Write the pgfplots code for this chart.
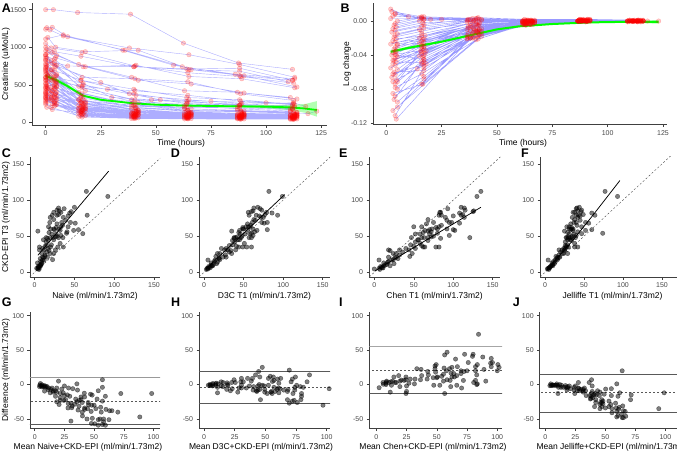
\documentclass[border=0pt]{standalone}
\usepackage{pgfplots}
\pgfplotsset{compat=1.18}
\usepackage{pgfplotstable}
\usepackage{fontspec}
\setmainfont{Liberation Sans}

\definecolor{lime}{RGB}{0,255,0}
\newcommand{\ticksz}{\fontsize{7}{8}\selectfont}
\newcommand{\labsz}{\fontsize{8.5}{10}\selectfont}
\newcommand{\letsz}{\fontsize{12.5}{13}\selectfont\bfseries}

\pgfplotsset{
  gg/.style={
    scale only axis, anchor=south west,
    axis lines*=left,
    axis line style={-, black!75, line width=0.5pt},
    every outer x axis line/.append style={-},
    every outer y axis line/.append style={-},
    every tick/.style={black!75, line width=0.5pt},
    tick align=outside, major tick length=2.5pt,
    ticklabel style={font=\ticksz, text=black!72},
    /pgf/number format/assume math mode=true,
    /pgf/number format/1000 sep={},
    scaled ticks=false,
  },
  traj/.style={no marks, blue, opacity=0.32, line width=0.4pt},
  dots/.style={only marks, mark=*, mark size=2.3pt,
    mark options={fill=red, fill opacity=0.2, draw=red, draw opacity=0.28, line width=0.3pt}},
  pts/.style={only marks, mark=*, mark size=2.2pt,
    mark options={draw=none, fill=black, opacity=0.5}},
  fitl/.style={no marks, black, line width=0.75pt},
  idl/.style={no marks, black!70, line width=0.4pt, dash pattern=on 2pt off 2pt},
  hl/.style={no marks, black!65, line width=0.6pt},
}

\pgfplotstableread{
x y
0 1500
3.5 1500
14.5 1462
38.5 1440
62.5 1055
87.5 790
112 705
nan nan
0.5 1260
3 1265
10 1140
38 990
65 900
88 770
113 600
nan nan
0 1240
2 1230
8 1150
36 960
62 740
86 640
113 580
nan nan
1 1130
4.5 1000
18 940
42 960
66 700
90 620
114 470
nan nan
0 1050
2.5 990
16.5 930
40.5 750
64.5 660
88.5 610
112.5 520
nan nan
0 1000
4 940
16 880
40 740
64 710
88 720
112 560
nan nan
0.5 980
3 930
17 740
41 760
65 610
89 580
113 460
nan nan
0 950
5 890
15 770
39 600
63 420
87 400
111 330
nan nan
1 930
4.5 860
18 740
42 560
66 510
90 390
114 310
nan nan
0 900
2.5 820
16.5 600
40.5 580
64.5 540
88.5 380
112.5 290
nan nan
0 880
4 840
16 560
40 440
64 330
88 300
112 240
nan nan
0.5 860
3 780
17 500
41 360
65 300
89 250
113 200
nan nan
0 820
5 760
15 480
39 300
63 220
87 180
111 150
nan nan
1 800
4.5 740
18 420
42 260
66 180
90 150
114 130
nan nan
0 780
2.5 700
16.5 380
40.5 230
64.5 160
88.5 140
112.5 120
119 115
123 148
nan nan
0 760
4 690
16 560
40 380
64 280
88 230
112 180
nan nan
0.5 740
3 660
17 340
41 200
65 140
89 120
113 110
nan nan
0 720
5 640
15 300
39 180
63 130
87 110
111 100
nan nan
1 700
4.5 620
18 280
42 160
66 120
90 100
114 90
nan nan
0 690
2.5 600
16.5 460
40.5 300
64.5 270
88.5 240
112.5 260
118 210
nan nan
0 670
4 580
16 260
40 150
64 110
88 100
112 90
nan nan
0.5 650
3 560
17 240
41 140
65 100
89 90
113 85
nan nan
0 640
5 540
15 400
39 240
63 180
87 160
111 140
nan nan
1 620
4.5 520
18 220
42 130
66 95
90 85
114 80
nan nan
0 600
2.5 560
16.5 480
28 440
40.5 420
64.5 360
88.5 280
112.5 250
nan nan
0 590
4 500
16 200
40 120
64 90
88 80
112 75
nan nan
0.5 570
3 480
17 190
41 110
65 85
89 75
113 70
nan nan
0 560
5 470
15 300
39 210
63 200
87 210
111 180
nan nan
1 540
4.5 450
18 180
42 100
66 80
90 70
114 65
nan nan
0 520
2.5 430
16.5 170
40.5 95
64.5 75
88.5 70
112.5 60
nan nan
0 510
4 470
16 350
40 270
64 240
88 220
112 190
nan nan
0.5 500
3 420
17 160
41 90
65 70
89 65
113 60
nan nan
0 480
5 400
15 150
39 85
63 70
87 60
111 55
nan nan
1 470
4.5 390
18 260
42 160
66 130
90 120
114 110
nan nan
0 460
2.5 380
16.5 140
40.5 80
64.5 65
88.5 60
112.5 55
nan nan
0 450
4 360
16 130
40 75
64 65
88 55
112 50
nan nan
0.5 440
3 370
17 220
41 150
65 120
89 110
113 100
nan nan
0 420
5 340
15 120
39 70
63 60
87 55
111 50
nan nan
1 410
4.5 330
18 200
42 130
66 110
90 100
114 95
nan nan
0 400
2.5 320
16.5 110
40.5 65
64.5 55
88.5 50
112.5 45
nan nan
0 380
4 340
16 280
40 230
64 200
88 190
112 170
nan nan
0.5 370
3 300
17 100
41 60
65 55
89 50
113 45
nan nan
0 360
5 300
15 180
39 120
63 100
87 95
111 90
nan nan
1 350
4.5 290
18 90
42 60
66 50
90 45
114 45
nan nan
0 340
2.5 310
16.5 260
40.5 200
64.5 160
88.5 150
112.5 140
nan nan
0 320
4 260
16 90
40 55
64 50
88 45
112 40
nan nan
0.5 310
3 250
17 160
41 100
65 90
89 85
113 80
nan nan
0 300
5 240
15 80
39 50
63 45
87 45
111 40
nan nan
1 280
4.5 230
18 150
42 110
66 100
90 95
114 90
nan nan
0 260
2.5 200
16.5 70
40.5 50
64.5 45
88.5 40
112.5 40
nan nan
0 240
4 220
16 140
40 90
64 80
88 80
112 75
nan nan
0.5 200
3 170
17 120
41 80
65 70
89 65
113 60
nan nan
0 900
4 760
25 530
38 380
52 300
64 250
88 230
112 220
nan nan
0 1110
8 1165
35 960
58 760
88 620
112 560
nan nan
0 850
4 800
10 750
40 740
65 700
88 680
110 540
nan nan
0 830
5 620
16 260
40 120
64 90
88 85
112 80
nan nan
0 730
3.5 600
17 520
30 330
48 300
75 280
100 260
113 230
nan nan
1 640
4 560
16 330
41 190
64 150
89 140
114 130
nan nan
0 330
4 280
16 150
40 80
64 70
88 65
112 60
nan nan
0 560
4 450
16 210
40 110
64 95
88 90
112 85
nan nan
0.5 480
3 420
17 200
41 130
65 110
89 100
113 95
nan nan
1 620
4.5 540
18 250
42 140
66 115
90 110
114 105
nan nan
0 700
5 520
15 230
39 120
63 100
87 95
111 90
nan nan
0 390
2.5 330
16.5 170
40.5 100
64.5 85
88.5 80
112.5 75
nan nan
0 280
4 250
16 120
40 70
64 60
88 60
112 55
nan nan
0.5 760
3 700
17 300
41 150
65 120
89 110
113 100
nan nan
0 600
5 480
15 190
39 105
63 85
87 80
111 70
nan nan
1 450
4.5 380
18 180
42 95
66 80
90 75
114 70
}\Atab

\pgfplotstableread{
x y
4.5 -0.115
38 -0.02
62 -0.004
87 0.001
110 0
nan nan
4 -0.111
17 -0.055
41 -0.018
65.5 -0.003
90.5 0
113.5 0.001
nan nan
5 -0.101
36.5 -0.021
63 -0.005
88 0
111 0
nan nan
3.5 -0.092
16 -0.048
42 -0.016
67 -0.002
92 0.001
115 0
nan nan
4 -0.088
17 -0.065
39.5 -0.019
61.5 -0.004
86.5 0
109 -0.001
nan nan
3 -0.085
16.5 -0.074
40.5 -0.022
64 -0.003
89 0.001
112 0
nan nan
5 -0.08
16 -0.05
37 -0.015
66 -0.002
91 0.002
114 0.001
nan nan
4 -0.074
17 -0.045
43 -0.012
63.5 -0.001
88.5 0.001
111.5 0
nan nan
3 -0.071
15 -0.041
39 -0.014
65 -0.004
90 -0.001
113 0
nan nan
4.5 -0.069
17 -0.052
41.5 -0.017
62.5 -0.003
87.5 0.002
116 0
nan nan
2.5 -0.066
16 -0.039
38 -0.011
62 -0.002
87 0
110 0.001
nan nan
4 -0.063
16.5 -0.043
41 -0.013
65.5 -0.001
90.5 0.001
113.5 0
nan nan
3.5 -0.06
17 -0.058
36.5 -0.02
63 -0.004
88 0
111 0
nan nan
5 -0.057
16 -0.036
42 -0.01
67 -0.002
92 0.001
115 -0.001
nan nan
2 -0.055
15.5 -0.035
39.5 -0.009
61.5 -0.001
86.5 0
109 0
nan nan
4 -0.052
17 -0.04
40.5 -0.012
64 -0.003
89 0.001
112 0.001
nan nan
3 -0.05
16 -0.033
37 -0.008
66 -0.001
91 0.002
114 0
nan nan
4.5 -0.048
17 -0.049
43 -0.015
63.5 -0.002
88.5 0
111.5 0
nan nan
3.5 -0.046
16 -0.03
39 -0.007
65 0
90 0.001
113 0
nan nan
4 -0.044
17.5 -0.038
41.5 -0.011
62.5 -0.002
87.5 0
116 0
nan nan
5 -0.042
16 -0.028
38 -0.006
62 -0.001
87 0.001
110 0.001
nan nan
2.5 -0.04
15 -0.026
41 -0.005
65.5 0
90.5 0
113.5 0
nan nan
4 -0.039
17 -0.034
36.5 -0.01
63 -0.002
88 0.001
111 0
nan nan
3 -0.037
16 -0.024
42 -0.004
67 0
92 0.001
115 0
nan nan
4.5 -0.035
17 -0.03
39.5 -0.008
61.5 -0.001
86.5 0
109 0
nan nan
3.5 -0.033
16.5 -0.022
40.5 -0.003
64 0.001
89 0.002
112 0
nan nan
4 -0.031
15 -0.02
37 -0.006
66 0
91 0
114 0.001
nan nan
5 -0.029
17 -0.025
43 -0.009
63.5 -0.001
88.5 0.001
111.5 0
nan nan
2 -0.027
16 -0.018
39 -0.002
65 0
90 0
113 0
nan nan
4 -0.025
17 -0.021
41.5 -0.005
62.5 0
87.5 0.001
116 0
nan nan
3 -0.023
16 -0.015
38 -0.003
62 0.001
87 0
110 0
nan nan
4.5 -0.021
17.5 -0.017
41 -0.004
65.5 0
90.5 0
113.5 -0.001
nan nan
3.5 -0.019
16 -0.012
36.5 -0.001
63 0
88 0.001
111 0
nan nan
4 -0.017
15 -0.01
42 -0.002
67 0.001
92 0
115 0
nan nan
5 -0.015
17 -0.008
39.5 0
61.5 0
86.5 0
109 0
nan nan
2.5 -0.013
16 -0.006
40.5 0.001
64 0
89 0.001
112 0
nan nan
4 -0.011
17 -0.004
37 0.002
66 0
91 0
114 0
nan nan
3 -0.009
16.5 -0.002
43 0.001
63.5 0.001
88.5 0
111.5 0
nan nan
4.5 -0.007
15 0
39 0.003
65 0.001
90 0.001
113 0
nan nan
3.5 -0.005
17 0.002
41.5 0.004
62.5 0.002
87.5 0.002
116 0.001
nan nan
4 -0.003
16 0.004
38 0.002
62 0
87 0
110 0
nan nan
5 0
17 0.005
41 0.003
65.5 0.001
90.5 0.001
113.5 0
nan nan
2 0.003
16 0.003
36.5 0.001
63 0
88 0
111 0
nan nan
3 0.006
15 0.004
42 0.002
67 0
92 0.002
115 0.001
nan nan
4 0.008
17 0.002
39.5 0.001
61.5 0
86.5 0
109 0
nan nan
2.5 0.011
16 0.005
40.5 0.003
64 0.001
89 0.001
112 0
nan nan
2 0.014
10 0.005
25 0.002
37 0.001
66 0
91 0
114 0
nan nan
4 0.009
20 0.002
43 0.002
63.5 0
88.5 0
111.5 0
nan nan
3 -0.062
18 -0.05
39 -0.016
65 -0.003
90 0
113 0
nan nan
4.5 -0.04
17 -0.045
41.5 -0.014
62.5 -0.002
87.5 0
116 0
nan nan
16 -0.074
38 -0.02
62 -0.003
87 0
110 0
nan nan
5 -0.027
41 -0.012
65.5 -0.001
90.5 0
113.5 0
nan nan
3 -0.046
36.5 -0.017
63 -0.003
88 0.001
111 0
nan nan
5 -0.071
17 -0.03
42 -0.01
67 -0.002
92 0
115 0
nan nan
4 -0.036
39.5 -0.013
61.5 -0.002
86.5 0
109 0
nan nan
18 -0.035
40.5 -0.011
64 -0.001
89 0
118 0
nan nan
14 -0.056
37 -0.019
66 -0.004
91 0
123 0
nan nan
4 -0.078
16 -0.062
43 -0.018
63.5 -0.003
88.5 0
111.5 0
nan nan
5 -0.095
17 -0.068
39 -0.02
65 -0.004
90 0
113 0
nan nan
3 -0.105
41.5 -0.021
62.5 -0.004
87.5 0
116 0
}\Btab

\pgfplotstableread{
y n d c j mn dn md dd mc dc mj dj
105 92 99 130 93 98.5 -13 102 -6 117.5 25 99 -12
112 65 82 135 77 88.5 -47 97 -30 123.5 23 94.5 -35
79 66 93 110 64 72.5 -13 86 14 94.5 31 71.5 -15
59 55 80 100 60 57 -4 69.5 21 79.5 41 59.5 1
68 51 76 108 56 59.5 -17 72 8 88 40 62 -12
90 50 68 110 44 70 -40 79 -22 100 20 67 -46
84 46 60 125 46 65 -38 72 -24 104.5 41 65 -38
69 45 73 95 52 57 -24 71 4 82 26 60.5 -17
63 42 53 50 47 52.5 -21 58 -10 56.5 -13 55 -16
72 39 65 92 45 55.5 -33 68.5 -7 82 20 58.5 -27
76 36 72 114 42 56 -40 74 -4 95 38 59 -34
83 33 79 83 38 58 -50 81 -4 83 0 60.5 -45
85 31 62 126 42 58 -54 73.5 -23 105.5 41 63.5 -43
79 28 57 85 40 53.5 -51 68 -22 82 6 59.5 -39
89 30 63 114 41 59.5 -59 76 -26 101.5 25 65 -48
83 24 56 84 36 53.5 -59 69.5 -27 83.5 1 59.5 -47
79 22 66 82 43 50.5 -57 72.5 -13 80.5 3 61 -36
76 19.5 75 90 35 47.75 -56.5 75.5 -1 83 14 55.5 -41
69 19 61 98 37 44 -50 65 -8 83.5 29 53 -32
67 28 55 66 33 47.5 -39 61 -12 66.5 -1 50 -34
63 33 56 60 31 48 -30 59.5 -7 61.5 -3 47 -32
60 30.5 49 92 36 45.25 -29.5 54.5 -11 76 32 48 -24
60 24 62 73 31 42 -36 61 2 66.5 13 45.5 -29
60 20 50 80 34 40 -40 55 -10 70 20 47 -26
55 18 44 62 29 36.5 -37 49.5 -11 58.5 7 42 -26
49 26 42 72 30 37.5 -23 45.5 -7 60.5 23 39.5 -19
48 30 57 47 39 39 -18 52.5 9 47.5 -1 43.5 -9
48 35.5 60 68 28 41.75 -12.5 54 12 58 20 38 -20
48 23 40 63 33 35.5 -25 44 -8 55.5 15 40.5 -15
48 19.5 47 60 35 33.75 -28.5 47.5 -1 54 12 41.5 -13
48 14.4 38 121 27 31.2 -33.6 43 -10 84.5 73 37.5 -21
45 11 45 55 29 28 -34 45 0 50 10 37 -16
37 15 32 60 26 26 -22 34.5 -5 48.5 23 31.5 -11
44 17 36 68 34 30.5 -27 40 -8 56 24 39 -10
35 20 44 82 42 27.5 -15 39.5 9 58.5 47 38.5 7
31 26 40 44 25 28.5 -5 35.5 9 37.5 13 28 -6
35 29 49 78 28 32 -6 42 14 56.5 43 31.5 -7
40 32 51 58 38 36 -8 45.5 11 49 18 39 -2
33 10 28 52 24 21.5 -23 30.5 -5 42.5 19 28.5 -9
26 9 17 48 22 17.5 -17 21.5 -9 37 22 24 -4
19 7 19 30 15 13 -12 19 0 24.5 11 17 -4
21 10 24 28 19 15.5 -11 22.5 3 24.5 7 20 -2
22 13 15 45 14 17.5 -9 18.5 -7 33.5 23 18 -8
57 4 35 68 25 30.5 -53 46 -22 62.5 11 41 -32
35 6 54 62 30 20.5 -29 44.5 19 48.5 27 32.5 -5
31 6 26 18 22 18.5 -25 28.5 -5 24.5 -13 26.5 -9
13 3.5 9 12 9 8.25 -9.5 11 -4 12.5 -1 11 -4
8 4.5 6 8 7 6.25 -3.5 7 -2 8 0 7.5 -1
5.5 2.5 4 6 4 4 -3 4.75 -1.5 5.75 0.5 4.75 -1.5
6.4 6 8 10 6 6.2 -0.4 7.2 1.6 8.2 3.6 6.2 -0.4
9 7.5 11 20 10 8.25 -1.5 10 2 14.5 11 9.5 1
12 9 16 25 12 10.5 -3 14 4 18.5 13 12 0
17 10 5 6 4 13.5 -7 11 -12 11.5 -11 10.5 -13
15 7.5 13 18 11 11.25 -7.5 14 -2 16.5 3 13 -4
10 7 9 14 9 8.5 -3 9.5 -1 12 4 9.5 -1
4.6 4 5 0 3 4.3 -0.6 4.8 0.4 2.3 -4.6 3.8 -1.6
4 5.5 3 7 5 4.75 1.5 3.5 -1 5.5 3 4.5 1
28 15 32 36 20 21.5 -13 30 4 32 8 24 -8
33 17 22 40 26 25 -16 27.5 -11 36.5 7 29.5 -7
31 12 30 32 18 21.5 -19 30.5 -1 31.5 1 24.5 -13
42 14.4 39 52 26 28.2 -27.6 40.5 -3 47 10 34 -16
53 21.6 46 58 31 37.3 -31.4 49.5 -7 55.5 5 42 -22
53 27 52 52 37 40 -26 52.5 -1 52.5 -1 45 -16
58 32 45 64 36 45 -26 51.5 -13 61 6 47 -22
56 40.7 64 72 42 48.35 -15.3 60 8 64 16 49 -14
69 34 80 75 40 51.5 -35 74.5 11 72 6 54.5 -29
73 24 63 68 38 48.5 -49 68 -10 70.5 -5 55.5 -35
88 37 71 93 40 62.5 -51 79.5 -17 90.5 5 64 -48
63 17.4 58 82 28 40.2 -45.6 60.5 -5 72.5 19 45.5 -35
35 36 60 64 38 35.5 1 47.5 25 49.5 29 36.5 3
58 49 67 102 52 53.5 -9 62.5 9 80 44 55 -6
59 25 55 70 33 42 -34 57 -4 64.5 11 46 -26
21 16 28 18 16 18.5 -5 24.5 7 19.5 -3 18.5 -5
26 19.5 20 24 24 22.75 -6.5 23 -6 25 -2 25 -2
17 12 14 22 13 14.5 -5 15.5 -3 19.5 5 15 -4
26 24 35 28 29 25 -2 30.5 9 27 2 27.5 3
7 5 7 9 6 6 -2 7 0 8 2 6.5 -1
9 6 10 12 8 7.5 -3 9.5 1 10.5 3 8.5 -1
11 8 12 16 10 9.5 -3 11.5 1 13.5 5 10.5 -1
6 4 5 11 5 5 -2 5.5 -1 8.5 5 5.5 -1
14 9 17 17 13 11.5 -5 15.5 3 15.5 3 13.5 -1
20 11 19 26 17 15.5 -9 19.5 -1 23 6 18.5 -3
24 13 27 32 18 18.5 -11 25.5 3 28 8 21 -6
30 18 34 20 25 24 -12 32 4 25 -10 27.5 -5
38 21 36 46 29 29.5 -17 37 -2 42 8 33.5 -9
45 24 43 56 32 34.5 -21 44 -2 50.5 11 38.5 -13
50 28 48 75 35 39 -22 49 -2 62.5 25 42.5 -15
65 35 59 85 41 50 -30 62 -6 75 20 53 -24
78 42 70 100 45 60 -36 74 -8 89 22 61.5 -33
80 30 77 112 49 55 -50 78.5 -3 96 32 64.5 -31
47 16 38 84 30 31.5 -31 42.5 -9 65.5 37 38.5 -17
36 13 41 50 27 24.5 -23 38.5 5 43 14 31.5 -9
51 33 62 95 40 42 -18 56.5 11 73 44 45.5 -11
62 27 49 78 34 44.5 -35 55.5 -13 70 16 48 -28
86 28 73 115 47 57 -58 79.5 -13 100.5 29 66.5 -39
82 44 86 108 60 63 -38 84 4 95 26 71 -22
17.5 22.5 20 24 16 20 5 18.75 2.5 20.75 6.5 16.75 -1.5
53.5 60.5 58 70 47 57 7 55.75 4.5 61.75 16.5 50.25 -6.5
54 40 60 80 74 47 -14 57 6 67 26 64 20
}\Stab

\begin{document}
\begin{tikzpicture}[x=1pt,y=1pt]
\path[use as bounding box] (0pt,0pt) rectangle (677pt,456pt);

% ---------------- A ----------------
\begin{axis}[gg, at={(32pt,331pt)}, width=294.7pt, height=121.7pt,
  xmin=-6.2, xmax=127.5, ymin=-36, ymax=1585,
  xtick={0,25,50,75,100,125}, ytick={0,500,1000,1500},
  unbounded coords=jump]
\addplot[traj] table[x=x,y=y] {\Atab};
\addplot[dots] table[x=x,y=y] {\Atab};
\addplot[draw=none, fill=lime, fill opacity=0.3] coordinates {
 (0,650) (5,588) (10,505) (17,368) (25,312) (40,262) (60,238) (75,233) (90,229) (100,229) (110,228) (118,245) (123,282)
 (123,75) (118,125) (110,165) (100,186) (90,195) (75,201) (60,212) (40,242) (25,288) (17,340) (10,458) (5,535) (0,585)};
\addplot[no marks, lime, line width=1.8pt] coordinates {
 (0,617) (5,560) (10,480) (17,355) (25,300) (40,252) (50,234) (60,225) (75,217) (90,212) (100,208) (110,200) (117,185) (123,164)};
\end{axis}

% ---------------- B ----------------
\begin{axis}[gg, at={(373pt,331.3pt)}, width=294pt, height=121.4pt,
  xmin=-6, xmax=126.8, ymin=-0.1216, ymax=0.0208,
  xtick={0,25,50,75,100,125}, ytick={-0.12,-0.08,-0.04,0},
  yticklabel style={/pgf/number format/.cd, fixed, fixed zerofill, precision=2},
  unbounded coords=jump]
\addplot[traj, opacity=0.4] table[x=x,y=y] {\Btab};
\addplot[dots] table[x=x,y=y] {\Btab};
\addplot[draw=none, fill=lime, fill opacity=0.3] coordinates {
 (2,-0.0340) (10,-0.0300) (25,-0.0232) (40,-0.0147) (50,-0.0091) (60,-0.0056) (75,-0.0029) (90,-0.0012) (100,-0.0005) (110,-0.0001) (123,0.0012)
 (123,-0.0032) (110,-0.0019) (100,-0.0019) (90,-0.0024) (75,-0.0041) (60,-0.0068) (50,-0.0105) (40,-0.0163) (25,-0.0252) (10,-0.0330) (2,-0.0380)};
\addplot[no marks, lime, line width=2pt] coordinates {
 (2,-0.036) (10,-0.0315) (25,-0.0242) (40,-0.0155) (50,-0.0098) (60,-0.0062) (75,-0.0035) (90,-0.0018) (100,-0.0012) (110,-0.001) (123,-0.001)};
\end{axis}

% ---------------- C ----------------
\begin{axis}[gg, at={(30pt,179pt)}, width=130pt, height=120.3pt,
  xmin=-5.9, xmax=157.6, ymin=-6.5, ymax=160,
  xtick={0,50,100,150}, ytick={0,50,100,150}]
\addplot[idl] coordinates {(-10,-10) (170,170)};
\addplot[pts] table[x=n,y=y] {\Stab};
\addplot[fitl] coordinates {(4,23.5) (93,140)};
\end{axis}

% ---------------- D ----------------
\begin{axis}[gg, at={(199pt,179pt)}, width=131pt, height=120.3pt,
  xmin=-6.3, xmax=159.2, ymin=-6.5, ymax=160,
  xtick={0,50,100,150}, ytick={0,50,100,150}]
\addplot[idl] coordinates {(-10,-10) (170,170)};
\addplot[pts] table[x=d,y=y] {\Stab};
\addplot[fitl] coordinates {(2,4.2) (102,107.6)};
\end{axis}

% ---------------- E ----------------
\begin{axis}[gg, at={(369pt,179pt)}, width=131.3pt, height=120.3pt,
  xmin=-6.7, xmax=159.6, ymin=-6.5, ymax=160,
  xtick={0,50,100,150}, ytick={0,50,100,150}]
\addplot[idl] coordinates {(-10,-10) (170,170)};
\addplot[pts] table[x=c,y=y] {\Stab};
\addplot[fitl] coordinates {(1.3,2.3) (135,90)};
\end{axis}

% ---------------- F ----------------
\begin{axis}[gg, at={(540pt,179pt)}, width=145pt, height=120.3pt,
  xmin=-6.4, xmax=179.5, ymin=-6.5, ymax=160,
  xtick={0,50,100,150}, ytick={0,50,100,150}]
\addplot[idl] coordinates {(-10,-10) (190,190)};
\addplot[pts] table[x=j,y=y] {\Stab};
\addplot[fitl] coordinates {(2.1,2.8) (15,19) (34,42) (60,77) (96,127)};
\end{axis}

% ---------------- G ----------------
\begin{axis}[gg, at={(30pt,27.5pt)}, width=130pt, height=116.8pt,
  xmin=-4, xmax=105.5, ymin=-63.8, ymax=105.8,
  xtick={0,25,50,75,100}, ytick={-50,0,50,100}]
\addplot[hl, black!40, line width=0.8pt] coordinates {(-10,9.7) (120,9.7)};
\addplot[hl, dash pattern=on 2pt off 2pt, line width=0.5pt] coordinates {(-10,-23.7) (120,-23.7)};
\addplot[hl] coordinates {(-10,-57.6) (120,-57.6)};
\addplot[pts] table[x=mn,y=dn] {\Stab};
\end{axis}

% ---------------- H ----------------
\begin{axis}[gg, at={(199pt,27.5pt)}, width=131pt, height=116.8pt,
  xmin=-4.1, xmax=102.7, ymin=-63.8, ymax=105.8,
  xtick={0,25,50,75,100}, ytick={-50,0,50,100}]
\addplot[hl] coordinates {(-10,19.8) (120,19.8)};
\addplot[hl, dash pattern=on 2pt off 2pt, line width=0.5pt] coordinates {(-10,-3.4) (120,-3.4)};
\addplot[hl] coordinates {(-10,-26.5) (120,-26.5)};
\addplot[pts] table[x=md,y=dd] {\Stab};
\end{axis}

% ---------------- I ----------------
\begin{axis}[gg, at={(369.3pt,27.5pt)}, width=132.7pt, height=116.8pt,
  xmin=-5.8, xmax=103.9, ymin=-63.8, ymax=105.8,
  xtick={0,25,50,75,100}, ytick={-50,0,50,100}]
\addplot[hl, black!35, line width=1pt] coordinates {(-10,55.5) (120,55.5)};
\addplot[hl, dash pattern=on 2pt off 2pt, line width=0.5pt] coordinates {(-10,21.2) (120,21.2)};
\addplot[hl] coordinates {(-10,-12.5) (120,-12.5)};
\addplot[pts] table[x=mc,y=dc] {\Stab};
\end{axis}

% ---------------- J ----------------
\begin{axis}[gg, at={(539.7pt,27.5pt)}, width=145pt, height=116.8pt,
  xmin=-4.7, xmax=116.1, ymin=-63.8, ymax=105.8,
  xtick={0,25,50,75,100}, ytick={-50,0,50,100}]
\addplot[hl] coordinates {(-10,15.4) (130,15.4)};
\addplot[hl, dash pattern=on 2pt off 2pt, line width=0.5pt] coordinates {(-10,-11.6) (130,-11.6)};
\addplot[hl] coordinates {(-10,-39.6) (130,-39.6)};
\addplot[pts] table[x=mj,y=dj] {\Stab};
\end{axis}

% ---------------- titles ----------------
\node[font=\labsz] at (181pt,312.8pt) {Time (hours)};
\node[font=\labsz] at (523pt,312.8pt) {Time (hours)};
\node[font=\labsz, rotate=90] at (6pt,392pt) {Creatinine (uMol/L)};
\node[font=\labsz, rotate=90] at (347pt,392pt) {Log change};
\node[font=\labsz, rotate=90] at (6pt,239pt) {CKD-EPI T3 (ml/min/1.73m2)};
\node[font=\labsz, rotate=90] at (6pt,85.9pt) {Difference (ml/min/1.73m2)};
\node[font=\labsz] at (95pt,159.3pt) {Naive (ml/min/1.73m2)};
\node[font=\labsz] at (264.5pt,159.3pt) {D3C T1 (ml/min/1.73m2)};
\node[font=\labsz] at (434.6pt,159.3pt) {Chen T1 (ml/min/1.73m2)};
\node[font=\labsz] at (612.5pt,159.3pt) {Jelliffe T1 (ml/min/1.73m2)};
\node[font=\labsz] at (88pt,8.3pt) {Mean Naive+CKD-EPI (ml/min/1.73m2)};
\node[font=\labsz] at (261pt,8.3pt) {Mean D3C+CKD-EPI (ml/min/1.73m2)};
\node[font=\labsz] at (433pt,8.3pt) {Mean Chen+CKD-EPI (ml/min/1.73m2)};
\node[font=\labsz] at (612pt,8.3pt) {Mean Jelliffe+CKD-EPI (ml/min/1.73m2)};

% ---------------- panel letters ----------------
\node[font=\letsz, anchor=north west, inner sep=0pt] at (1.7pt,452pt) {A};
\node[font=\letsz, anchor=north west, inner sep=0pt] at (340.3pt,452pt) {B};
\node[font=\letsz, anchor=north west, inner sep=0pt] at (1.7pt,307pt) {C};
\node[font=\letsz, anchor=north west, inner sep=0pt] at (170.7pt,307pt) {D};
\node[font=\letsz, anchor=north west, inner sep=0pt] at (339pt,307pt) {E};
\node[font=\letsz, anchor=north west, inner sep=0pt] at (521pt,307pt) {F};
\node[font=\letsz, anchor=north west, inner sep=0pt] at (1.7pt,158.7pt) {G};
\node[font=\letsz, anchor=north west, inner sep=0pt] at (171pt,158.7pt) {H};
\node[font=\letsz, anchor=north west, inner sep=0pt] at (339pt,158.7pt) {I};
\node[font=\letsz, anchor=north west, inner sep=0pt] at (512.7pt,158.7pt) {J};
\end{tikzpicture}
\end{document}
